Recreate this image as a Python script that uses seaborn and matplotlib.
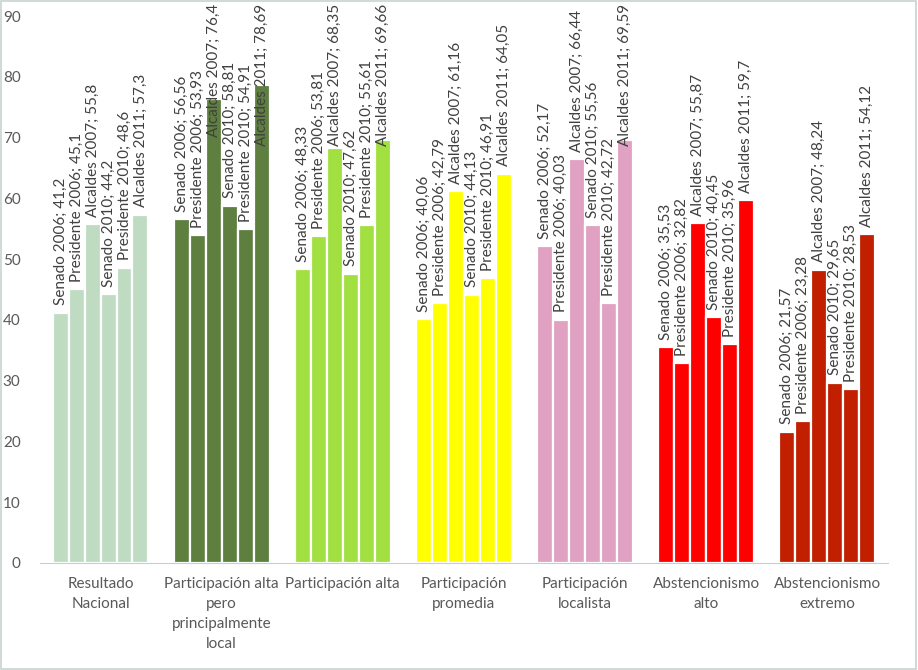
import matplotlib
matplotlib.use("Agg")
import matplotlib.pyplot as plt
import numpy as np
import pandas as pd
import seaborn as sns

grupos = ["Resultado\nNacional", "Participación alta\npero\nprincipalmente\nlocal",
          "Participación alta", "Participación\npromedia", "Participación\nlocalista",
          "Abstencionismo\nalto", "Abstencionismo\nextremo"]
elecciones = ["Senado 2006", "Presidente 2006", "Alcaldes 2007",
              "Senado 2010", "Presidente 2010", "Alcaldes 2011"]
valores = [
    [41.2, 45.1, 55.8, 44.2, 48.6, 57.3],
    [56.56, 53.93, 76.4, 58.81, 54.91, 78.69],
    [48.33, 53.81, 68.35, 47.62, 55.61, 69.66],
    [40.06, 42.79, 61.16, 44.13, 46.91, 64.05],
    [52.17, 40.03, 66.44, 55.56, 42.72, 69.59],
    [35.53, 32.82, 55.87, 40.45, 35.96, 59.7],
    [21.57, 23.28, 48.24, 29.65, 28.53, 54.12],
]
colores = ["#BFDCC3", "#5E7F3F", "#A2E042", "#FFFF00", "#E0A1C2", "#FF0000", "#C11F00"]

rows = []
for g, vals in zip(grupos, valores):
    for e, v in zip(elecciones, vals):
        rows.append({"grupo": g, "eleccion": e, "valor": v})
df = pd.DataFrame(rows)

sns.set_style("white")
plt.rcParams['font.family'] = ['Lato', 'DejaVu Sans']

fig = plt.figure(figsize=(9.18, 6.7), dpi=100)
ax = fig.add_axes([0.0436, 0.16, 0.9234, 0.816])
sns.barplot(data=df, x="grupo", y="valor", hue="eleccion", order=grupos,
            hue_order=elecciones, width=0.79, edgecolor="white", linewidth=1.6,
            errorbar=None, ax=ax)
ax.legend_.remove()

# colour by group, not by election
for container in ax.containers:
    for i, bar in enumerate(container):
        bar.set_facecolor(colores[i])

ax.set_ylim(0, 90)
ax.set_xlim(-0.5, 6.5)
ax.set_yticks(np.arange(0, 91, 10))
ax.set_xlabel("")
ax.set_ylabel("")
for s in ["top", "right", "left"]:
    ax.spines[s].set_visible(False)
ax.spines["bottom"].set_color("#C8CFCA")
ax.tick_params(axis="both", length=0, labelsize=11, labelcolor="#595959", pad=10)
ax.tick_params(axis="y", pad=14)
for lab in ax.get_xticklabels():
    lab.set_linespacing(1.55)

fig.canvas.draw()
renderer = fig.canvas.get_renderer()
H = fig.bbox.height
for j, container in enumerate(ax.containers):
    for i, bar in enumerate(container):
        v = valores[i][j]
        x = bar.get_x() + bar.get_width() / 2
        txt = ax.text(x, v + 1.2, f"{elecciones[j]}; " + str(v).replace(".", ","),
                      rotation=90, ha="center", va="bottom", fontsize=11,
                      color="#404040")
        ext = txt.get_window_extent(renderer)
        if ext.y1 > H - 4:
            shift = ext.y1 - (H - 4)
            inv = ax.transData.inverted()
            y0 = inv.transform((0, ext.y0 - shift))[1]
            txt.set_y(y0)

fig.patches.append(plt.Rectangle((0.001, 0.001), 0.997, 0.997, transform=fig.transFigure,
                                 fill=False, edgecolor="#C8D3CC", linewidth=1.2))
fig.savefig("out.png", dpi=100)
